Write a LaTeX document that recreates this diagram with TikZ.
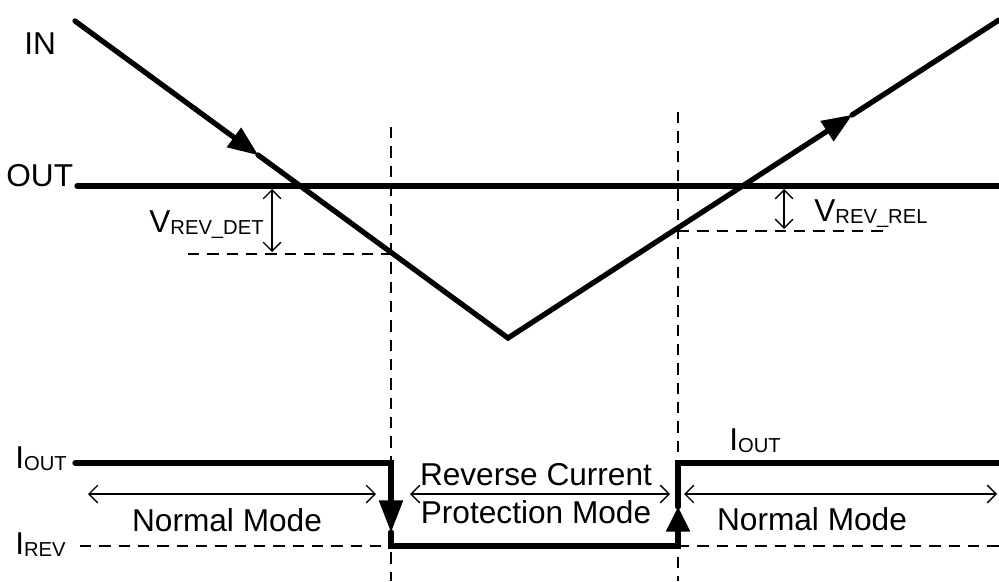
\documentclass[tikz,border=0pt]{standalone}
\usepackage{fontspec}
\setmainfont{Liberation Sans}
\usetikzlibrary{arrows.meta}

\newcommand{\subtxt}[2]{#1\raisebox{-1.7pt}{\fontsize{11.5}{12}\selectfont #2}}

\begin{document}
\begin{tikzpicture}[x=0.02cm, y=-0.02cm,
    wave/.style={line width=3pt, line cap=round},
    guide/.style={line width=0.8pt, dash pattern=on 6.5pt off 4.5pt},
    span/.style={line width=0.8pt, {Straight Barb[length=5pt,width=10pt]}-{Straight Barb[length=5pt,width=10pt]}},
    head/.style={-{Triangle[length=#1,width=14pt,line width=0pt]}},
    lbl/.style={inner sep=0pt, font=\fontsize{18}{21.5}\selectfont}]
    \useasboundingbox (0,0) rectangle (999,581);

    % Key points
    \coordinate (in0) at (75,21);
    \coordinate (inarr) at (258,155);
    \coordinate (vbot) at (508,338);
    \coordinate (outarr) at (852,115);
    \coordinate (in1) at (999,20);
    \coordinate (out0) at (77,186);
    \coordinate (out1) at (999,186);

    % Labels
    \node[lbl, anchor=base west] (inlbl) at (24,55) {IN};
    \node[lbl, anchor=base west] (outlbl) at (6,186) {OUT};
    \node[lbl, anchor=base west] (detlbl) at (149,232) {\subtxt{V}{REV\_DET}};
    \node[lbl, anchor=base west] (rellbl) at (814,221) {\subtxt{V}{REV\_REL}};
    \node[lbl, anchor=base west] (ioutl) at (15,468) {\subtxt{I}{OUT}};
    \node[lbl, anchor=base west] (irevl) at (15,554) {\subtxt{I}{REV}};
    \node[lbl, anchor=base west] (ioutr) at (729,450) {\subtxt{I}{OUT}};
    \node[lbl, anchor=base] (norm1) at (227,531) {Normal Mode};
    \node[lbl, anchor=base] (norm2) at (812,530) {Normal Mode};
    \node[lbl, anchor=base] (rev1) at (536,485) {Reverse Current};
    \node[lbl, anchor=base] (rev2) at (536,523) {Protection Mode};

    % Time markers
    \coordinate (det top) at (391,127);
    \coordinate (det bot) at (391,581);
    \coordinate (rel top) at (678,112);
    \coordinate (rel bot) at (678,581);
    \draw[guide] (det top) -- (det bot);
    \draw[guide] (rel top) -- (rel bot);

    % Thresholds
    \coordinate (det0) at (188,254);
    \coordinate (det1) at (392,254);
    \coordinate (rel0) at (678,231);
    \coordinate (rel1) at (883,231);
    \draw[guide] (det0) -- (det1);
    \draw[guide] (rel0) -- (rel1);
    \coordinate (detA) at (272,189);
    \coordinate (detB) at (272,252);
    \coordinate (relA) at (784,189);
    \coordinate (relB) at (784,229);
    \draw[span] (detA) -- (detB);
    \draw[span] (relA) -- (relB);

    % Voltages
    \draw[wave] (out0) -- (out1);
    \draw[wave, head=17pt] (in0) -- (inarr);
    \draw[wave, head=17pt] (inarr) -- (vbot) -- (outarr);
    \draw[wave] (outarr) -- (in1);

    % Current
    \coordinate (io0) at (75,463);
    \coordinate (ioA) at (391,463);
    \coordinate (dnarr) at (391,532);
    \coordinate (irA) at (391,546);
    \coordinate (irB) at (678,546);
    \coordinate (uparr) at (678,507);
    \coordinate (ioB) at (678,463);
    \coordinate (io1) at (999,463);
    \draw[wave, head=18pt] (io0) -- (ioA) -- (dnarr);
    \draw[wave, head=14pt] (dnarr) -- (irA) -- (irB) -- (uparr);
    \draw[wave] (uparr) -- (ioB) -- (io1);
    \coordinate (irev0) at (80,546);
    \coordinate (irev1) at (999,546);
    \draw[guide] (irev0) -- (irA);
    \draw[guide] (irB) -- (irev1);

    % Modes
    \coordinate (m0) at (88,494);
    \coordinate (m1) at (376,494);
    \coordinate (m2) at (410,494);
    \coordinate (m3) at (670,494);
    \coordinate (m4) at (684,494);
    \coordinate (m5) at (997,494);
    \draw[span] (m0) -- (m1);
    \draw[span] (m2) -- (m3);
    \draw[span] (m4) -- (m5);
\end{tikzpicture}
\end{document}
